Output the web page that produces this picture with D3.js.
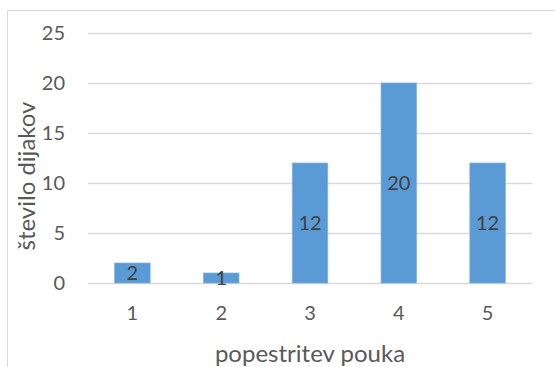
<!DOCTYPE html>
<html><head><meta charset="utf-8">
<script src="https://cdn.jsdelivr.net/npm/d3@7"></script>
<style>body{margin:0;background:#fff;} svg{display:block;font-family:Lato,sans-serif;}</style>
</head><body>
<script>
const categories = ["1","2","3","4","5"];
const values = [2,1,12,20,12];
const yTicks = [0,5,10,15,20,25];
const yTitle = "število dijakov";
const xTitle = "popestritev pouka";

const W=555,H=367;
const m={left:88,right:23,top:33,bottom:84};
const FS="20px";
const svg=d3.select("body").append("svg").attr("width",W).attr("height",H);
svg.append("rect").attr("x",7.5).attr("y",10.5).attr("width",W).attr("height",H)
  .attr("fill","none").attr("stroke","#d9d9d9");
const x=d3.scaleBand().domain(categories).range([m.left,W-m.right]).paddingInner(0.6).paddingOuter(0.3);
const y=d3.scaleLinear().domain([0,25]).range([H-m.bottom,m.top]);

const gy=svg.append("g").attr("transform",`translate(${m.left},0)`)
  .call(d3.axisLeft(y).tickValues(yTicks).tickSize(-(W-m.left-m.right)).tickPadding(23));
gy.select(".domain").remove();
gy.selectAll("line").attr("stroke","#d9d9d9").attr("stroke-width",1.3);
gy.selectAll("text").attr("fill","#595959").style("font-size",FS).style("font-family","Lato");

const gx=svg.append("g").attr("transform",`translate(0,${H-m.bottom})`)
  .call(d3.axisBottom(x).tickSize(0).tickPadding(23));
gx.select(".domain").remove();
gx.selectAll("text").attr("fill","#595959").style("font-size",FS).style("font-family","Lato");

svg.append("g").selectAll("rect").data(values).join("rect")
  .attr("x",(d,i)=>x(categories[i])).attr("width",x.bandwidth())
  .attr("y",d=>y(d)).attr("height",d=>y(0)-y(d))
  .attr("fill","#5b9bd5").attr("stroke","#7fb1e0").attr("stroke-width",0.7);

svg.append("g").selectAll("text").data(values).join("text")
  .attr("x",(d,i)=>x(categories[i])+x.bandwidth()/2)
  .attr("y",d=>(y(d)+y(0))/2).attr("dy","0.36em")
  .attr("text-anchor","middle").attr("fill","#404040").style("font-size",FS)
  .text(d=>d);

svg.append("text").attr("transform",`translate(35,176) rotate(-90)`)
  .attr("text-anchor","middle").attr("fill","#595959").style("font-size","24px").text(yTitle);
svg.append("text").attr("x",310).attr("y",362)
  .attr("text-anchor","middle").attr("fill","#595959").style("font-size","24px").text(xTitle);
</script>
</body></html>
